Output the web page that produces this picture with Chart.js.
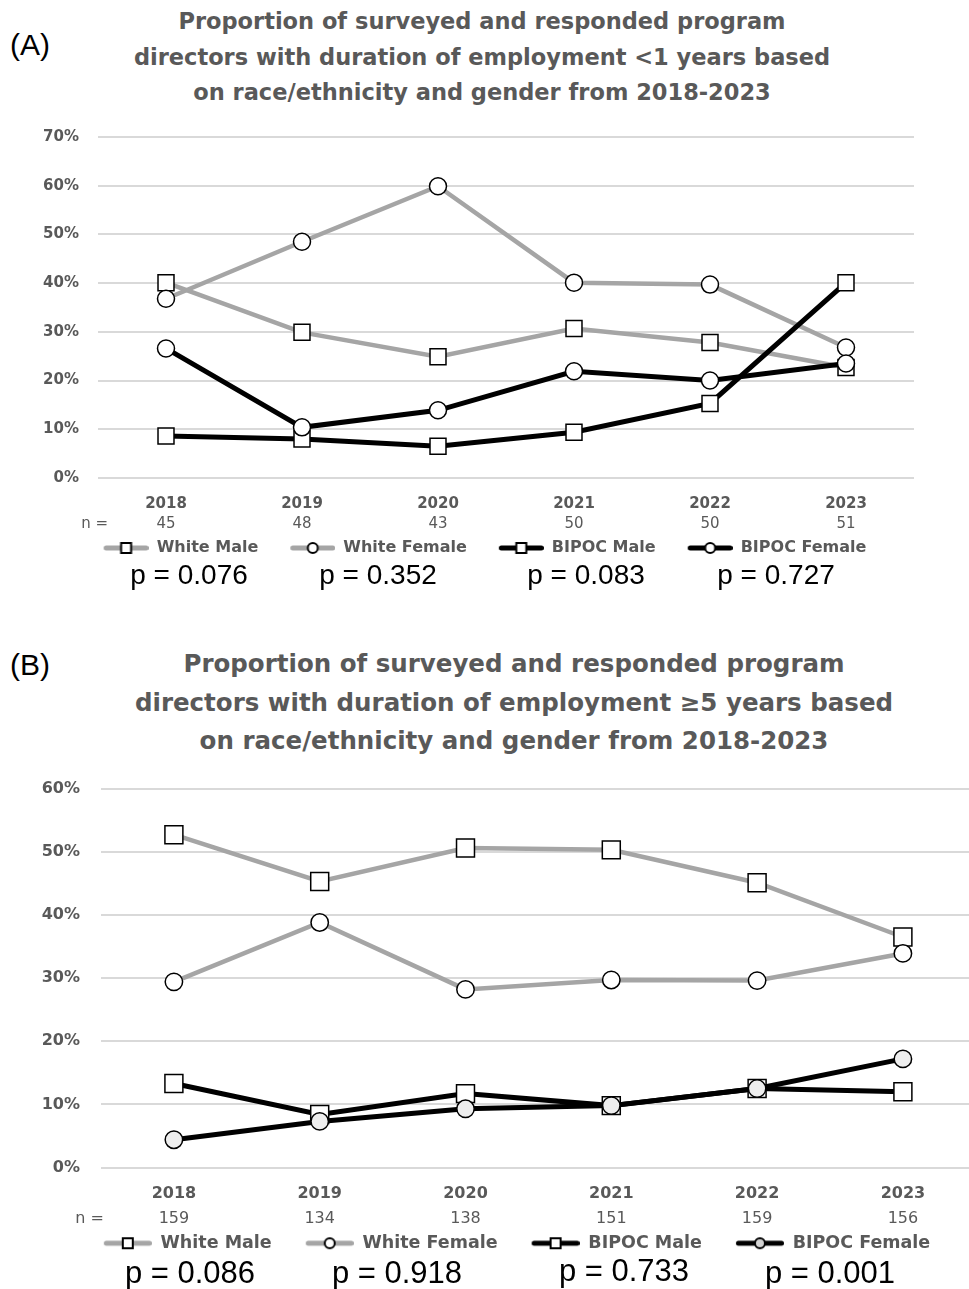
<!DOCTYPE html>
<html><head><meta charset="utf-8">
<script src="https://cdn.jsdelivr.net/npm/chart.js@4.4.1/dist/chart.umd.min.js"></script>
<style>
html,body{margin:0;padding:0;background:#fff;width:969px;height:1289px;overflow:hidden;position:relative;}
.abs{position:absolute;}
.tag{position:absolute;font-family:"Liberation Sans",Arial,sans-serif;font-size:30px;line-height:34px;color:#000;}
.title{position:absolute;text-align:center;white-space:nowrap;font-family:"DejaVu Sans",sans-serif;font-weight:bold;color:#595959;}
.pval{position:absolute;transform:translate(-50%,-50%);font-family:"Liberation Sans",Arial,sans-serif;color:#000;white-space:nowrap;line-height:1;}
</style></head><body>
<div class="tag" style="left:10px;top:28px;">(A)</div>
<div class="title" style="left:32px;top:4px;width:900px;font-size:22.5px;line-height:35.5px;">Proportion of surveyed and responded program<br>directors with duration of employment &lt;1 years based<br>on race/ethnicity and gender from 2018-2023</div>
<canvas id="chartA" class="abs" style="left:0;top:109px;" width="969" height="457"></canvas>
<div id="pA"></div>

<div class="tag" style="left:10px;top:648px;">(B)</div>
<div class="title" style="left:64px;top:645px;width:900px;font-size:24.5px;line-height:38.5px;">Proportion of surveyed and responded program<br>directors with duration of employment ≥5 years based<br>on race/ethnicity and gender from 2018-2023</div>
<canvas id="chartB" class="abs" style="left:0;top:758px;" width="990" height="504"></canvas>
<div id="pB"></div>

<script>
// ---------- DATA ----------
const years = ['2018', '2019', '2020', '2021', '2022', '2023'];
const seriesNames = ['White Male', 'White Female', 'BIPOC Male', 'BIPOC Female'];

// Panel A: employment < 1 year (%)
const nA = ['45', '48', '43', '50', '50', '51'];
const whiteMaleA   = [40.1, 29.9, 24.9, 30.7, 27.8, 22.7];
const whiteFemaleA = [36.8, 48.5, 59.9, 40.1, 39.7, 26.8];
const bipocMaleA   = [8.6, 8.0, 6.5, 9.4, 15.3, 40.1];
const bipocFemaleA = [26.6, 10.4, 13.9, 21.9, 20.0, 23.5];
const yMaxA = 70;
const pValuesA = ['p = 0.076', 'p = 0.352', 'p = 0.083', 'p = 0.727'];

// Panel B: employment >= 5 years (%)
const nB = ['159', '134', '138', '151', '159', '156'];
const whiteMaleB   = [52.7, 45.3, 50.6, 50.3, 45.1, 36.5];
const whiteFemaleB = [29.4, 38.8, 28.2, 29.7, 29.6, 33.9];
const bipocMaleB   = [13.3, 8.4, 11.7, 9.8, 12.5, 12.0];
const bipocFemaleB = [4.4, 7.3, 9.3, 9.8, 12.5, 17.2];
const yMaxB = 60;
const pValuesB = ['p = 0.086', 'p = 0.918', 'p = 0.733', 'p = 0.001'];

// ---------- STYLE ----------
const GRAY = '#a5a5a5', BLACK = '#000000', TEXT = '#595959';

function legendSample(color, lw, shape, fill, G, S) {
  const c = document.createElement('canvas');
  c.width = G + S; c.height = 18;
  const ctx = c.getContext('2d');
  ctx.strokeStyle = color; ctx.lineWidth = lw; ctx.lineCap = 'round';
  ctx.beginPath(); ctx.moveTo(G + lw / 2, 9); ctx.lineTo(G + S - lw / 2, 9); ctx.stroke();
  const cx = G + S / 2;
  ctx.fillStyle = fill; ctx.strokeStyle = '#000'; ctx.lineWidth = 2;
  if (shape === 'rect') { ctx.fillRect(cx - 5, 4, 10, 10); ctx.strokeRect(cx - 5, 4, 10, 10); }
  else { ctx.beginPath(); ctx.arc(cx, 9, 5, 0, Math.PI * 2); ctx.fill(); ctx.stroke(); }
  return c;
}

const nPrefix = {
  id: 'nPrefix',
  afterDraw(chart, args, o) {
    const s = chart.scales.n; if (!s) return;
    const ctx = chart.ctx; ctx.save();
    ctx.font = o.size + 'px "DejaVu Sans"'; ctx.fillStyle = TEXT;
    ctx.textAlign = 'right'; ctx.textBaseline = 'middle';
    ctx.fillText('n =', o.x, s.top + o.padding + o.size * 0.6);
    ctx.restore();
  }
};

function makeChart(id, c) {
  const styles = [
    {color: GRAY, w: c.grayW, shape: 'rect', fill: '#fff'},
    {color: GRAY, w: c.grayW, shape: 'circle', fill: '#fff'},
    {color: BLACK, w: c.blackW, shape: 'rect', fill: '#fff'},
    {color: BLACK, w: c.blackW, shape: 'circle', fill: c.bfFill}
  ];
  const datasets = c.series.map((d, i) => ({
    label: seriesNames[i], data: d,
    borderColor: styles[i].color, borderWidth: styles[i].w,
    pointStyle: styles[i].shape,
    pointRadius: styles[i].shape === 'rect' ? c.rectR : c.circR,
    pointHoverRadius: styles[i].shape === 'rect' ? c.rectR : c.circR,
    pointBackgroundColor: styles[i].fill, pointBorderColor: '#000', pointBorderWidth: 1.5,
    tension: 0, fill: false, order: 4 - i, clip: false
  }));
  const samples = styles.map(s => legendSample(s.color, c.legLW, s.shape, c.legFill && s.fill !== '#fff' ? c.legFill : s.fill, c.G, c.S));
  return new Chart(document.getElementById(id), {
    type: 'line',
    data: {labels: years, datasets},
    plugins: [nPrefix],
    options: {
      responsive: false, animation: false, devicePixelRatio: 1,
      layout: {padding: c.pad},
      scales: {
        x: {
          type: 'category', offset: true, weight: 0,
          grid: {display: false, drawTicks: false}, border: {display: false},
          ticks: {font: {family: 'DejaVu Sans', weight: 'bold', size: c.tickSize}, color: TEXT, padding: c.xPad, autoSkip: false, maxRotation: 0},
          afterFit: s => { s.height = c.xH; }
        },
        n: {
          type: 'category', labels: c.nLabels, position: 'bottom', offset: true, weight: 1,
          grid: {display: false, drawTicks: false}, border: {display: false},
          ticks: {font: {family: 'DejaVu Sans', size: c.tickSize}, color: TEXT, padding: c.nPad, autoSkip: false, maxRotation: 0},
          afterFit: s => { s.height = c.nH; }
        },
        y: {
          min: 0, max: c.yMax,
          grid: {color: '#d9d9d9', lineWidth: 2, drawTicks: false}, border: {display: false},
          ticks: {stepSize: 10, callback: v => v + '%', font: {family: 'DejaVu Sans', weight: 'bold', size: c.yTickSize}, color: TEXT, padding: c.yPad},
          afterFit: s => { s.width = c.yW; }
        }
      },
      plugins: {
        tooltip: {enabled: false},
        title: {display: false},
        nPrefix: {x: c.nX, padding: c.nPad, size: c.tickSize},
        legend: {
          position: 'bottom',
          labels: {
            usePointStyle: true, pointStyleWidth: c.G + c.S, padding: 4,
            font: {family: 'DejaVu Sans', weight: 'bold', size: c.legSize}, color: TEXT,
            generateLabels: () => seriesNames.map((n, i) => ({
              text: n, pointStyle: samples[i], fillStyle: '#fff', strokeStyle: '#000',
              lineWidth: 0, hidden: false, datasetIndex: i, fontColor: TEXT
            }))
          }
        }
      }
    }
  });
}

makeChart('chartA', {
  series: [whiteMaleA, whiteFemaleA, bipocMaleA, bipocFemaleA], nLabels: nA, yMax: yMaxA,
  pad: {left: 28, right: 55, top: 0, bottom: 0}, yW: 70, yPad: 19,
  xH: 30, xPad: 17, nH: 28, nPad: 7, nX: 108,
  tickSize: 15, yTickSize: 15, legSize: 16, G: 28, S: 45, legLW: 5,
  grayW: 4.5, blackW: 5, rectR: 11.3, circR: 8.5, bfFill: '#fff', legFill: null
});
makeChart('chartB', {
  series: [whiteMaleB, whiteFemaleB, bipocMaleB, bipocFemaleB], nLabels: nB, yMax: yMaxB,
  pad: {left: 24, right: 10, top: 0, bottom: 0}, yW: 77, yPad: 21,
  xH: 39, xPad: 17, nH: 24, nPad: 3, nX: 104,
  tickSize: 16, yTickSize: 16, legSize: 17.5, G: 30, S: 48, legLW: 5,
  grayW: 4.5, blackW: 5, rectR: 12.7, circR: 8.7, bfFill: '#eeeeee', legFill: '#d4d4d4'
});

function placeP(id, vals, xs, ys, size) {
  const host = document.getElementById(id);
  vals.forEach((v, i) => {
    const d = document.createElement('div');
    d.className = 'pval';
    d.style.left = xs[i] + 'px'; d.style.top = ys[i] + 'px'; d.style.fontSize = size + 'px';
    d.textContent = v;
    host.appendChild(d);
  });
}
placeP('pA', pValuesA, [189, 378, 586, 776], [575, 575, 575, 575], 28);
placeP('pB', pValuesB, [190, 397, 624, 830], [1272, 1272, 1270, 1272], 31);
</script>
</body></html>
